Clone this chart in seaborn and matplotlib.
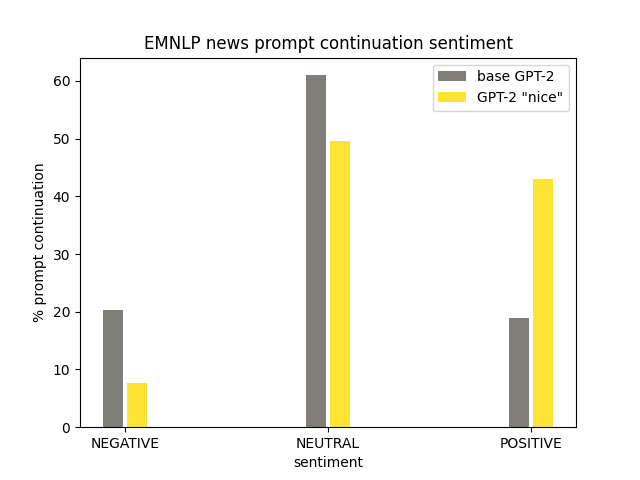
import pandas as pd
import numpy as np
import matplotlib
matplotlib.use('Agg')
import matplotlib.pyplot as plt
import seaborn as sns

sentiments=['NEGATIVE','NEUTRAL','POSITIVE']
base_gpt2=[20.3,61.0,18.9]
nice_gpt2=[7.6,49.6,43.0]
models=['base GPT-2','GPT-2 "nice"']

df=pd.DataFrame({'sentiment':sentiments*2,
                 'pct':base_gpt2+nice_gpt2,
                 'model':[models[0]]*3+[models[1]]*3})

fig,ax=plt.subplots(figsize=(6.4,4.8),dpi=100)
sns.barplot(data=df,x='sentiment',y='pct',hue='model',
            palette=['#7f7e79','#ffe433'],width=0.24,gap=1/6,
            saturation=1,ax=ax)
ax.set_xlim(-0.221,2.221)
ax.set_xlabel('sentiment')
ax.set_ylabel('% prompt continuation')
ax.set_title('EMNLP news prompt continuation sentiment')
ax.legend(title=None,loc='upper right')
plt.savefig('out.png')
